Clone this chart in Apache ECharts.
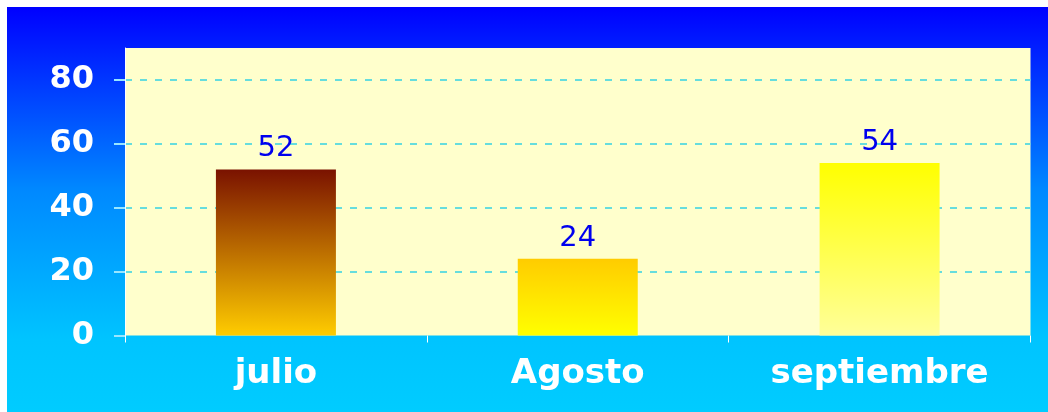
<!DOCTYPE html>
<html>
<head>
<meta charset="utf-8">
<script src="https://cdn.jsdelivr.net/npm/echarts@6/dist/echarts.min.js"></script>
<style>
  html, body { margin: 0; padding: 0; background: #ffffff; }
  #chart {
    position: absolute; left: 7px; top: 7px; width: 1041px; height: 405px;
    background: linear-gradient(to bottom, #0000ff 0%, #0088ff 45%, #00c4ff 82%, #00ccff 100%);
  }
</style>
</head>
<body>
<div id="chart"></div>
<script>
const categories = ['julio', 'Agosto', 'septiembre'];
const values = [52, 24, 54];
const yTicks = [0, 20, 40, 60, 80];

const barGradients = [
  ['#7a1200', '#ffcc00'],
  ['#ffcc00', '#ffff00'],
  ['#ffff00', '#ffff99']
];

const gridLineColors = ['rgba(0,0,0,0)', '#66dddd', '#66dddd', '#66dddd', '#66dddd', 'rgba(0,0,0,0)'];

const chart = echarts.init(document.getElementById('chart'), null, { renderer: 'canvas' });
chart.setOption({
  backgroundColor: 'transparent',
  animation: false,
  grid: {
    left: 118, top: 41, right: 17.5, bottom: 76.5,
    show: true, backgroundColor: '#ffffcc', borderWidth: 0
  },
  xAxis: {
    type: 'category',
    data: categories,
    axisLine: { show: false },
    axisTick: { show: true, length: 7, lineStyle: { color: '#ffffff', width: 1 } },
    axisLabel: {
      color: '#ffffff', fontFamily: 'DejaVu Sans', fontWeight: 'bold',
      fontSize: 34, margin: 22
    },
    splitLine: { show: false }
  },
  yAxis: {
    type: 'value',
    min: 0, max: 90, interval: 20,
    axisLine: { show: true, lineStyle: { color: '#ffffff', width: 1 } },
    axisTick: { show: true, length: 11, customValues: yTicks, lineStyle: { color: '#99e6ff', width: 2 } },
    axisLabel: {
      color: '#ffffff', fontFamily: 'DejaVu Sans', fontWeight: 'bold',
      fontSize: 32, margin: 31, customValues: yTicks
    },
    splitLine: {
      show: true,
      lineStyle: { color: gridLineColors, width: 2, type: [7, 8] }
    }
  },
  series: [{
    type: 'bar',
    barWidth: 120,
    data: values.map(function (v, i) {
      return {
        value: v,
        itemStyle: {
          color: new echarts.graphic.LinearGradient(0, 0, 0, 1, [
            { offset: 0, color: barGradients[i][0] },
            { offset: 1, color: barGradients[i][1] }
          ])
        }
      };
    }),
    label: {
      show: true, position: 'top', distance: 6,
      color: '#0000ee', fontFamily: 'DejaVu Sans', fontSize: 29
    }
  }]
});
</script>
</body>
</html>
